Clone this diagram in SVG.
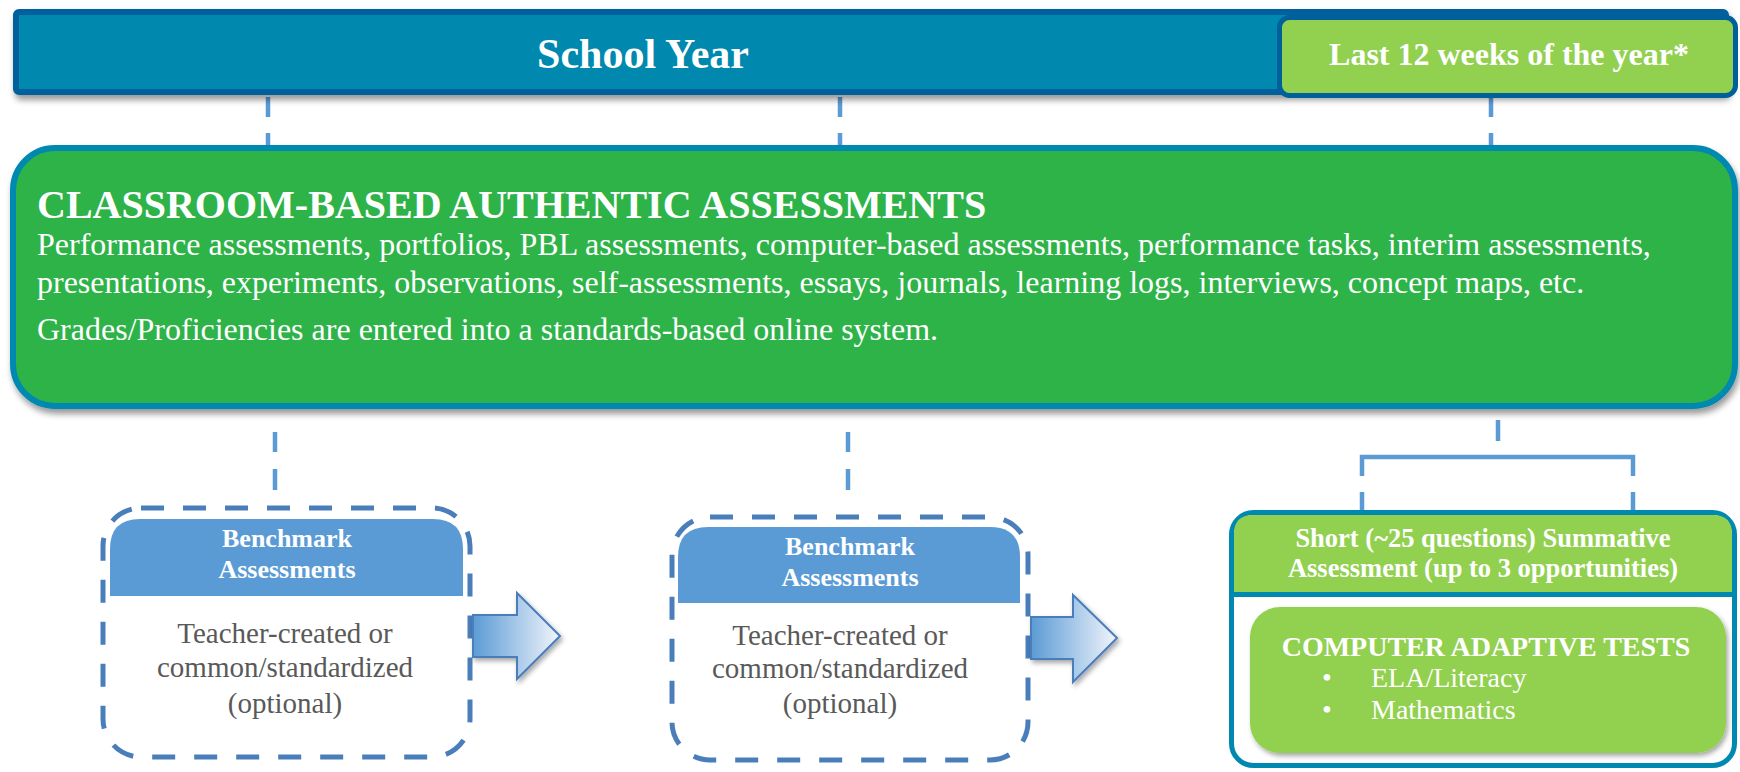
<svg xmlns="http://www.w3.org/2000/svg" width="1740" height="772" viewBox="0 0 1740 772">
  <defs>
    <filter id="shadow" x="-5%" y="-10%" width="110%" height="130%">
      <feDropShadow dx="2" dy="5" stdDeviation="3" flood-color="#000" flood-opacity="0.4"/>
    </filter>
    <filter id="shadowSm" x="-10%" y="-10%" width="125%" height="130%">
      <feDropShadow dx="2" dy="3" stdDeviation="2.5" flood-color="#000" flood-opacity="0.35"/>
    </filter>
    <linearGradient id="arrowFill" x1="0" y1="0" x2="1" y2="0">
      <stop offset="0" stop-color="#5B9BD5"/>
      <stop offset="1" stop-color="#F2F5FB"/>
    </linearGradient>
    <style>
      .serif { font-family: "Liberation Serif", "Times New Roman", serif; }
      .white { fill: #FFFFFF; }
      .bold { font-weight: bold; }
      .gray { fill: #595959; }
      .conn { stroke: #5B9BD5; stroke-width: 4.5; fill: none; }
      .dash { stroke-dasharray: 20 16; }
      .bench { fill: #FFFFFF; stroke: #4A7EBB; stroke-width: 5; stroke-dasharray: 23 19; }
      .benchHead { fill: #5B9BD5; }
      .arrow { fill: url(#arrowFill); stroke: #4A7EBB; stroke-width: 2; }
    </style>
  </defs>

  <!-- connectors (drawn first so the boxes sit on top of their ends) -->
  <g id="connectors">
    <line class="conn dash" x1="268" y1="97" x2="268" y2="150"/>
    <line class="conn dash" x1="840" y1="97" x2="840" y2="150"/>
    <line class="conn dash" x1="1491" y1="97" x2="1491" y2="150"/>
    <line class="conn" x1="275" y1="432" x2="275" y2="452"/>
    <line class="conn" x1="275" y1="469" x2="275" y2="490"/>
    <line class="conn" x1="848" y1="432" x2="848" y2="452"/>
    <line class="conn" x1="848" y1="469" x2="848" y2="490"/>
    <line class="conn" x1="1498" y1="420" x2="1498" y2="441"/>
    <path class="conn" d="M1362 476 V457 H1633 V476"/>
    <line class="conn" x1="1362" y1="492" x2="1362" y2="512"/>
    <line class="conn" x1="1633" y1="492" x2="1633" y2="512"/>
  </g>

  <!-- school year bar -->
  <g id="school-year">
    <rect x="16" y="12" width="1710" height="80" rx="3" fill="#0088AE" stroke="#00609B" stroke-width="6" filter="url(#shadow)"/>
    <text class="serif white bold" x="643" y="68" font-size="42" text-anchor="middle">School Year</text>
  </g>

  <g id="last-12-weeks">
    <rect x="1279.5" y="17.5" width="456" height="78" rx="10" fill="#92D050" stroke="#00609B" stroke-width="5"/>
    <text class="serif white bold" x="1509" y="65" font-size="32" text-anchor="middle">Last 12 weeks of the year*</text>
  </g>

  <!-- classroom-based assessments panel -->
  <g id="classroom">
    <rect x="13" y="148" width="1722" height="258" rx="42" fill="#2FB34A" stroke="#0089B0" stroke-width="6" filter="url(#shadow)"/>
    <text class="serif white bold" x="37" y="218" font-size="40">CLASSROOM-BASED AUTHENTIC ASSESSMENTS</text>
    <text class="serif white" x="37" y="255" font-size="32">Performance assessments, portfolios, PBL assessments, computer-based assessments, performance tasks, interim assessments,</text>
    <text class="serif white" x="37" y="293" font-size="32">presentations, experiments, observations, self-assessments, essays, journals, learning logs, interviews, concept maps, etc.</text>
    <text class="serif white" x="37" y="340" font-size="32">Grades/Proficiencies are entered into a standards-based online system.</text>
  </g>

  <!-- first benchmark -->
  <g id="benchmark-1">
    <rect class="bench" x="103" y="508" width="367" height="249" rx="38"/>
    <path class="benchHead" d="M110 596 V549 Q110 519 140 519 H433 Q463 519 463 549 V596 Z"/>
    <text class="serif white bold" x="287" y="547" font-size="26" text-anchor="middle">Benchmark</text>
    <text class="serif white bold" x="287" y="578" font-size="26" text-anchor="middle">Assessments</text>
    <text class="serif gray" x="285" y="643" font-size="29" text-anchor="middle">Teacher-created or</text>
    <text class="serif gray" x="285" y="677" font-size="29" text-anchor="middle">common/standardized</text>
    <text class="serif gray" x="285" y="713" font-size="29" text-anchor="middle">(optional)</text>
  </g>

  <g id="arrow-1">
    <path class="arrow" filter="url(#shadowSm)" d="M473 615 H517 V593 L560 636 L517 679 V657 H473 Z"/>
  </g>

  <!-- second benchmark -->
  <g id="benchmark-2">
    <rect class="bench" x="672" y="517" width="356" height="243" rx="38"/>
    <path class="benchHead" d="M678 603 V557 Q678 527 708 527 H990 Q1020 527 1020 557 V603 Z"/>
    <text class="serif white bold" x="850" y="555" font-size="26" text-anchor="middle">Benchmark</text>
    <text class="serif white bold" x="850" y="586" font-size="26" text-anchor="middle">Assessments</text>
    <text class="serif gray" x="840" y="645" font-size="29" text-anchor="middle">Teacher-created or</text>
    <text class="serif gray" x="840" y="678" font-size="29" text-anchor="middle">common/standardized</text>
    <text class="serif gray" x="840" y="713" font-size="29" text-anchor="middle">(optional)</text>
  </g>

  <g id="arrow-2">
    <path class="arrow" filter="url(#shadowSm)" d="M1031 617 H1073 V595 L1117 638 L1073 682 V659 H1031 Z"/>
  </g>

  <!-- summative assessment -->
  <g id="summative">
    <rect x="1231.5" y="512.5" width="503" height="253" rx="22" fill="#FFFFFF" stroke="#0089B0" stroke-width="5"/>
    <path d="M1234 594 V534 Q1234 515 1253 515 H1713 Q1732 515 1732 534 V594 Z" fill="#92D050"/>
    <line x1="1231.5" y1="594.5" x2="1734.5" y2="594.5" stroke="#0089B0" stroke-width="5"/>
    <text class="serif white bold" x="1483" y="547" font-size="26.5" text-anchor="middle">Short (~25 questions) Summative</text>
    <text class="serif white bold" x="1483" y="577" font-size="26.5" text-anchor="middle">Assessment (up to 3 opportunities)</text>
  </g>

  <g id="computer-adaptive">
    <rect x="1250" y="607" width="476" height="146" rx="30" fill="#92D050" filter="url(#shadowSm)"/>
    <text class="serif white bold" x="1486" y="656" font-size="28" text-anchor="middle">COMPUTER ADAPTIVE TESTS</text>
    <text class="serif white" x="1327" y="687" font-size="28" text-anchor="middle">•</text>
    <text class="serif white" x="1371" y="687" font-size="28">ELA/Literacy</text>
    <text class="serif white" x="1327" y="719" font-size="28" text-anchor="middle">•</text>
    <text class="serif white" x="1371" y="719" font-size="28">Mathematics</text>
  </g>
</svg>
